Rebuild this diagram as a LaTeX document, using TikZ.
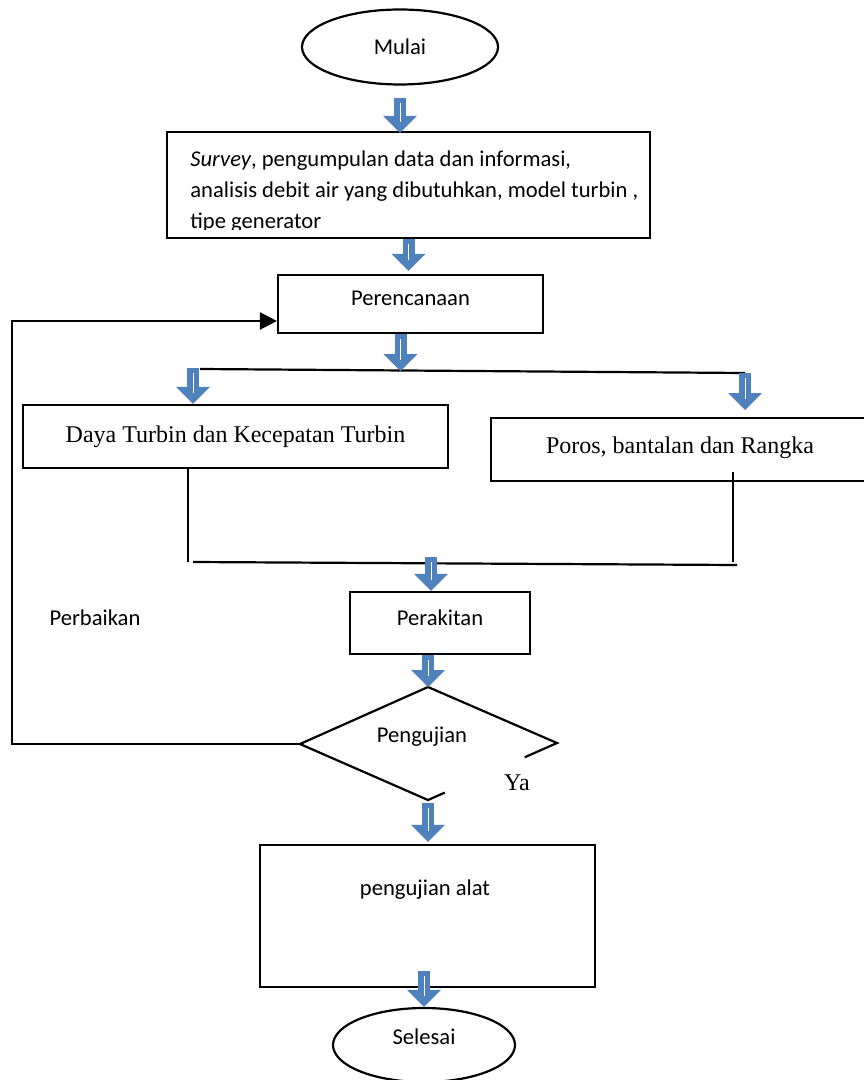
\documentclass[tikz,border=0pt]{standalone}
\usepackage{fontspec}
\setmainfont{Carlito}
\newfontfamily\serifcap{Liberation Serif}
\usepackage{tikz}
\usetikzlibrary{arrows.meta,calc,positioning,shapes.geometric}
\definecolor{arrowblue}{HTML}{4F81BD}

\begin{document}
\begin{tikzpicture}[x=0.5pt,y=-0.5pt,
    font=\fontsize{11.3}{15.5}\selectfont,
    box/.style={draw, line width=1.1pt, rectangle, inner sep=0pt},
    oval/.style={draw, line width=1.1pt, ellipse, inner sep=0pt},
    link/.style={line width=1.1pt},
    back/.style={line width=1.2pt, -{Triangle[width=8.5pt,length=8.5pt]}},
    flow/.style={draw=arrowblue, line width=6pt,
      -{Triangle[width=17pt,length=8.5pt,line width=0pt]},
      postaction={draw=white, -, line width=.35pt, shorten <=2.5pt, shorten >=5.5pt}}]
        \useasboundingbox (0,0) rectangle (863,1080);
        %Nodes
        \node[oval, minimum width=98pt, minimum height=37.5pt] (mulai) at (400,47) {Mulai};
        \node[box, minimum width=241.5pt, minimum height=53pt] (survey) at (408.5,185) {};
        \begin{scope}
          \clip (survey.north west) rectangle (650,229.5);
          \node[anchor=north west, align=left, inner sep=0pt] (surveytxt) at (190,150)
            {\textit{Survey}, pengumpulan data dan informasi,\\
             analisis debit air yang dibutuhkan, model turbin ,\\
             tipe generator};
        \end{scope}
        \node[box, minimum width=132.5pt, minimum height=29pt, text depth=6pt] (plan) at (410.5,304) {Perencanaan};
        \node[box, minimum width=212.5pt, minimum height=31.5pt, font=\serifcap\fontsize{12}{14}\selectfont] (daya) at (235.5,436.5) {Daya Turbin dan Kecepatan Turbin};
        \node[box, minimum width=189pt, minimum height=31.5pt, text depth=4pt, font=\serifcap\fontsize{12}{14}\selectfont] (poros) at (680,449.5) {Poros, bantalan dan Rangka};
        \node[box, minimum width=90pt, minimum height=31pt, text depth=5pt] (rakit) at (440,623) {Perakitan};
        \node (perbaikan) at (95,618) {Perbaikan};
        \node[box, minimum width=167.5pt, minimum height=71pt] (alat) at (427.5,916) {};
        \node (alattxt) at (425,890) {pengujian alat};
        \node[oval, minimum width=91pt, minimum height=37pt, text depth=8pt] (selesai) at (424,1045) {Selesai};
        %Decision
        \coordinate (ujiN) at (428,687);
        \coordinate (ujiW) at (300,744);
        \coordinate (ujiE) at (557,743);
        \coordinate (ujiS) at (428,800);
        \draw[link] (ujiN) -- (ujiE) -- ($(ujiE)!0.25!(ujiS)$);
        \draw[link] ($(ujiE)!0.87!(ujiS)$) -- (ujiS) -- (ujiW) -- (ujiN);
        \node (uji) at (422,737) {Pengujian};
        \node[font=\serifcap\fontsize{12}{14}\selectfont] (ya) at (517,783) {Ya};
        %Branch lines
        \coordinate (bagiL) at (200,369);
        \coordinate (bagiR) at (745,373);
        \coordinate (cabL) at (193,368);
        \coordinate (gabL) at (188,562);
        \coordinate (gabR) at (737,565);
        \coordinate (turunR) at (733,472);
        \coordinate (gabM) at (431,557);
        \coordinate (belok) at (12,744);
        \draw[link] (bagiL) -- (bagiR);
        \draw[link] (daya.south -| gabL) -- (gabL);
        \draw[link] ([xshift=2.5pt]gabL) -- (gabR);
        \draw[link] (turunR) -- (turunR |- gabL);
        \draw[back] (ujiW) -- (belok) |- ([yshift=-8.5pt]plan.west);
        %Block arrows
        \draw[flow] ([yshift=-6pt]mulai.south) -- ([yshift=-1pt]mulai.south |- survey.north);
        \draw[flow] (survey.south) -- ([yshift=1.5pt]survey.south |- plan.north);
        \draw[flow] ([xshift=-5pt]plan.south) -- ++(0,37);
        \draw[flow] (cabL) -- (cabL |- daya.north);
        \draw[flow] (bagiR) -- ++(0,37);
        \draw[flow] (gabM) -- (gabM |- rakit.north);
        \draw[flow] ([xshift=-6pt]rakit.south) -- (ujiN);
        \draw[flow] ([yshift=-1.5pt]ujiS) -- ([yshift=1pt]ujiS |- alat.north);
        \draw[flow] (selesai.north |- alat.south) ++(0,-17) -- (selesai.north);
\end{tikzpicture}
\end{document}
